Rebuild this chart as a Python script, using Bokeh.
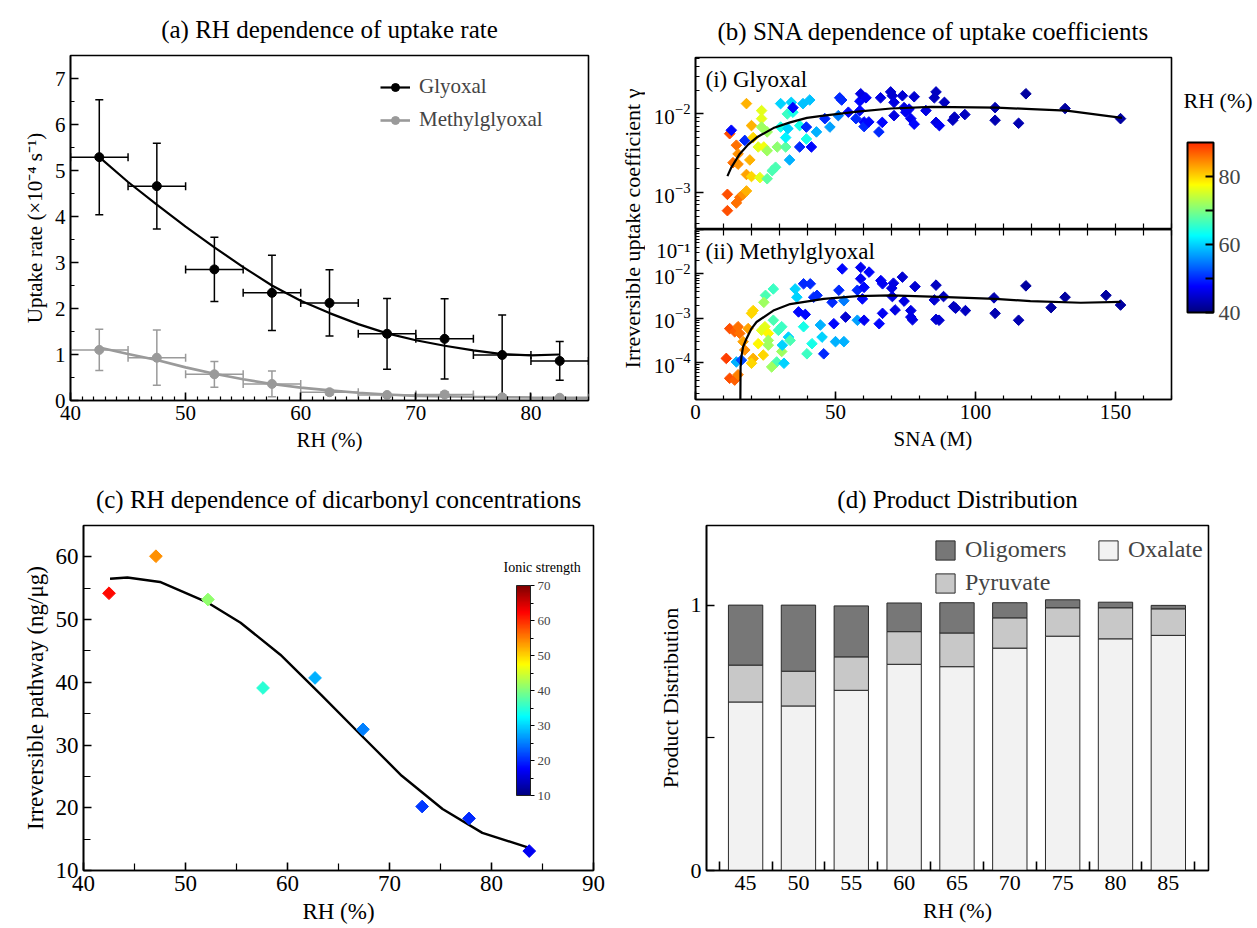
import numpy as np
from bokeh.plotting import figure
from bokeh.models import (ColumnDataSource, Whisker, TeeHead, Legend, LegendItem, ColorBar,
                          LinearColorMapper, FixedTicker, LinearAxis, Label)
from bokeh.layouts import row, column
from bokeh.embed import file_html
from bokeh.resources import INLINE

SERIF = "Liberation Serif"

# ---------------- (a) uptake rate ----------------
rh_bins = [42.5, 47.5, 52.5, 57.5, 62.5, 67.5, 72.5, 77.5, 82.5]
rh_bin_err = [2.5, 2.5, 2.5, 2.5, 2.5, 2.5, 2.5, 2.5, 2.5]
gly_rate = [5.29, 4.66, 2.85, 2.34, 2.12, 1.45, 1.34, 0.99, 0.86]
gly_err = [1.25, 0.93, 0.70, 0.82, 0.72, 0.77, 0.87, 0.87, 0.42]
mgly_rate = [1.10, 0.93, 0.57, 0.36, 0.18, 0.12, 0.13, 0.07, 0.06]
mgly_err = [0.45, 0.60, 0.28, 0.28, 0.06, 0.05, 0.06, 0.03, 0.02]
gly_fit_rh = [42.5, 45, 47.5, 50, 52.5, 55, 57.5, 60, 62.5, 65, 67.5, 70, 72.5, 75, 77.5, 80, 82.5]
gly_fit_rate = [5.29, 4.75, 4.26, 3.78, 3.33, 2.90, 2.50, 2.17, 1.90, 1.66, 1.46, 1.31, 1.19, 1.09, 1.01, 0.98, 1.00]
mgly_fit_rh = [42.5, 45, 47.5, 50, 52.5, 55, 57.5, 60, 62.5, 65, 67.5, 70, 75, 80, 85]
mgly_fit_rate = [1.15, 1.01, 0.88, 0.72, 0.58, 0.46, 0.36, 0.28, 0.22, 0.17, 0.13, 0.10, 0.08, 0.065, 0.06]

# ---------------- (b) uptake coefficients vs SNA ----------------
sna_gly = [11.4, 11.4, 14.6, 15.8, 17.0, 18.2, 12.2, 12.8, 17.6, 14.6, 15.2, 13.4, 15.2, 18.2, 20.0,
           20.6, 19.4, 18.2, 20.0, 23.6, 23.6, 23.6, 22.4, 24.4, 25.6, 25.6, 23.0, 25.6, 27.4, 28.6,
           29.2, 32.2, 30.4, 32.2, 32.8, 30.4, 34.2, 34.8, 33.0, 33.6, 34.8, 37.2, 38.4, 39.6, 39.6,
           40.8, 37.2, 41.4, 43.2, 46.2, 48.0, 51.0, 54.6, 51.5, 52.2, 57.3, 58.7, 58.7, 59.0, 60.9,
           60.2, 60.2, 61.9, 66.1, 69.7, 70.3, 70.9, 73.9, 78.1, 85.9, 85.3, 88.9, 74.5, 76.3, 82.3,
           75.1, 70.9, 76.9, 78.1, 66.7, 65.5, 85.9, 87.1, 92.5, 91.9, 96.2, 107.0, 107.0, 115.4,
           118.0, 132.0, 151.8]
gamma_gly = [5.9e-4, 9.5e-4, 7.4e-4, 8.7e-4, 9.5e-4, 1.05e-3, 5.6e-3, 6.2e-3, 4.6e-3, 4.0e-3, 3.1e-3,
             2.4e-3, 2.3e-3, 1.35e-2, 7.1e-3, 5.0e-3, 2.6e-3, 1.7e-3, 1.6e-3, 1.1e-2, 8.7e-3, 6.8e-3,
             3.8e-3, 3.8e-3, 5.9e-3, 3.4e-3, 1.55e-3, 1.5e-3, 1.9e-3, 2.1e-3, 3.8e-3, 3.8e-3, 6.8e-3,
             5.0e-3, 1.0e-2, 1.35e-2, 1.4e-2, 1.05e-2, 6.5e-3, 2.6e-3, 1.2e-2, 7.1e-3, 1.35e-2, 6.8e-3,
             4.8e-3, 1.5e-2, 3.8e-3, 3.8e-3, 5.9e-3, 8.7e-3, 6.8e-3, 9.5e-3, 1.05e-2, 1.6e-2, 1.5e-2,
             8.7e-3, 1.45e-2, 1.1e-2, 1.8e-2, 1.6e-2, 7.9e-3, 6.9e-3, 7.9e-3, 1.6e-2, 1.9e-2, 1.7e-2,
             1.4e-2, 1.7e-2, 1.65e-2, 1.9e-2, 1.6e-2, 1.4e-2, 1.2e-2, 1.15e-2, 1.1e-2, 1.05e-2, 9.5e-3,
             8.7e-3, 7.4e-3, 7.8e-3, 5.9e-3, 7.8e-3, 7.1e-3, 9.1e-3, 8.3e-3, 9.8e-3, 1.2e-2, 8.3e-3,
             7.6e-3, 1.8e-2, 1.17e-2, 8.7e-3]
rh_gly = [88, 88, 86, 86, 84, 82, 88, 48, 50, 86, 84, 86, 84, 82, 82, 80, 82, 83, 80, 76, 76, 72, 76,
          77, 72, 72, 76, 68, 67, 67, 71, 68, 64, 62, 66, 60, 60, 64, 60, 58, 48, 64, 59, 50, 64, 59,
          50, 48, 58, 50, 57, 55, 48, 50, 50, 50, 48, 48, 46, 47, 48, 50, 48, 46, 45, 45, 46, 45, 45,
          44, 44, 44, 46, 47, 46, 47, 46, 47, 48, 48, 50, 46, 47, 44, 44, 44, 43, 43, 43, 42, 42, 42]
gly_fit_sna = [11.4, 12.8, 15.8, 18.8, 21.8, 27.8, 33.8, 39.8, 45.8, 57.8, 69.8, 84.2, 107.5, 120.0, 132.5, 152.3]
gly_fit_gamma = [1.62e-3, 2.09e-3, 3.1e-3, 4.07e-3, 5.0e-3, 6.6e-3, 7.8e-3, 8.9e-3, 9.5e-3, 1.07e-2,
                 1.17e-2, 1.23e-2, 1.2e-2, 1.15e-2, 1.1e-2, 8.9e-3]

sna_mgly = [12.2, 14.0, 15.2, 11.0, 14.6, 16.4, 12.2, 14.0, 15.2, 15.8, 18.8, 17.0, 17.6, 20.6, 20.0,
            20.0, 20.6, 22.4, 24.2, 24.8, 23.6, 26.0, 25.0, 24.4, 27.8, 26.0, 26.0, 27.8, 29.6, 30.8,
            30.8, 29.0, 27.2, 31.6, 31.0, 33.2, 33.8, 35.6, 36.2, 36.8, 38.6, 41.0, 39.2, 38.6, 41.6,
            39.8, 42.2, 43.4, 44.6, 45.2, 45.8, 48.8, 49.4, 50.0, 51.2, 53.0, 52.4, 53.0, 53.6, 57.8,
            57.8, 59.0, 59.0, 60.2, 59.6, 60.2, 62.0, 66.2, 66.8, 65.6, 66.8, 70.7, 70.1, 73.9, 78.4,
            85.9, 70.3, 74.5, 85.3, 88.6, 71.3, 76.9, 77.5, 76.9, 85.9, 87.0, 92.2, 92.9, 96.4, 106.6,
            107.0, 115.4, 118.0, 127.0, 132.0, 146.6, 151.8]
gamma_mgly = [4.5e-5, 4.1e-5, 5.4e-5, 1.26e-4, 1.05e-4, 1.15e-4, 5.9e-4, 5.0e-4, 6.5e-4, 4.6e-4, 5.9e-4,
              3.0e-4, 1.95e-4, 1.26e-4, 9.8e-5, 1.3e-3, 1.5e-3, 2.7e-4, 1.5e-4, 6.5e-4, 5.4e-4, 4.6e-4,
              3.3e-3, 2.3e-3, 4.6e-3, 3.2e-4, 2.5e-4, 9.1e-4, 5.4e-4, 6.5e-4, 1.8e-4, 1.05e-4, 8.1e-5,
              9.8e-5, 2.5e-4, 3.8e-4, 3.2e-4, 4.6e-3, 3.0e-3, 1.4e-3, 6.0e-3, 6.0e-3, 1.23e-3, 6.5e-4,
              2.7e-4, 1.6e-4, 3.0e-3, 3.3e-3, 7.1e-4, 3.8e-4, 1.6e-4, 2.3e-3, 7.6e-4, 3.0e-4, 4.3e-3,
              3.0e-4, 1.3e-2, 2.5e-3, 1.07e-3, 4.3e-3, 9.1e-4, 1.4e-2, 7.8e-3, 5.0e-3, 2.75e-3, 9.1e-4,
              1.1e-2, 7.1e-3, 6.0e-3, 7.6e-4, 1.3e-3, 6.2e-3, 4.8e-3, 8.5e-3, 5.2e-3, 5.6e-3, 3.1e-3,
              2.45e-3, 2.6e-3, 3.1e-3, 1.55e-3, 1.5e-3, 9.3e-4, 1.07e-3, 9.5e-4, 9.1e-4, 1.85e-3, 1.7e-3,
              1.5e-3, 2.9e-3, 1.3e-3, 9.1e-4, 5.4e-3, 1.75e-3, 3.0e-3, 3.3e-3, 2.0e-3]
rh_mgly = [88, 87, 85, 89, 58, 52, 88, 87, 86, 86, 83, 83, 84, 82, 80, 80, 80, 78, 80, 76, 76, 78, 67,
           72, 66, 72, 72, 67, 66, 66, 72, 67, 72, 60, 60, 60, 67, 60, 60, 48, 50, 50, 48, 64, 64, 66,
           50, 50, 58, 60, 50, 50, 48, 58, 50, 58, 48, 55, 45, 50, 57, 47, 47, 48, 48, 47, 48, 47, 47,
           48, 47, 46, 46, 45, 45, 44, 46, 46, 45, 44, 46, 46, 46, 46, 45, 45, 44, 44, 44, 43, 43, 43,
           42, 42, 42, 42, 42]
mgly_fit_sna = [16.0, 16.1, 16.4, 17.0, 18.2, 20.0, 21.8, 27.8, 33.8, 45.8, 57.8, 69.8, 89.7, 107.0, 119.6, 137.6, 151.8]
mgly_fit_gamma = [1.0e-5, 8.1e-5, 1.38e-4, 2.3e-4, 3.5e-4, 5.9e-4, 8.3e-4, 1.5e-3, 2.1e-3, 2.75e-3,
                  3.16e-3, 3.3e-3, 3.0e-3, 2.75e-3, 2.45e-3, 2.25e-3, 2.35e-3]

# ---------------- (c) irreversible pathway ----------------
rh_c = [42.5, 47.1, 52.2, 57.6, 62.7, 67.4, 73.2, 77.8, 83.7]
irrev = [54.2, 60.1, 53.2, 39.1, 40.7, 32.5, 20.2, 18.3, 13.1]
ionic = [62, 54, 41, 35, 28, 25, 21, 20, 17]
fit_c_rh = [42.6, 44.3, 47.5, 52.2, 55.4, 59.3, 63.3, 67.2, 71.2, 75.2, 79.1, 83.7]
fit_c_val = [56.5, 56.7, 56.0, 52.7, 49.5, 44.4, 38.0, 31.6, 25.1, 19.8, 16.0, 13.6]

# ---------------- (d) product distribution ----------------
rh_d = [45, 50, 55, 60, 65, 70, 75, 80, 85]
rh_d_labels = ["45", "50", "55", "60", "65", "70", "75", "80", "85"]
oxalate = [0.635, 0.620, 0.679, 0.777, 0.768, 0.838, 0.883, 0.873, 0.886]
pyruvate = [0.139, 0.131, 0.126, 0.123, 0.127, 0.114, 0.107, 0.117, 0.100]
oligomers = [0.226, 0.249, 0.192, 0.108, 0.114, 0.057, 0.030, 0.021, 0.013]


def jet(t):
    r = min(max(1.5 - abs(4 * t - 3), 0), 1)
    g = min(max(1.5 - abs(4 * t - 2), 0), 1)
    b = min(max(1.5 - abs(4 * t - 1), 0), 1)
    return "#%02x%02x%02x" % (int(r * 255), int(g * 255), int(b * 255))


jet_full = [jet(i / 255) for i in range(256)]
jet_rh = [jet(0.83 * i / 255) for i in range(256)]


def base_fig(**kw):
    p = figure(output_backend="svg", toolbar_location=None, **kw)
    p.grid.visible = False
    p.outline_line_color = "black"
    p.outline_line_width = 1.6
    p.outline_line_alpha = 1.0
    p.title.text_font = SERIF
    p.title.text_font_size = "25px"
    p.title.text_font_style = "normal"
    p.title.align = "center"
    p.title.text_color = "black"
    p.title.standoff = 25
    return p


def style_axis(ax, size="21px", label_size="21px"):
    ax.axis_line_color = "black"
    ax.axis_line_width = 1.6
    ax.major_tick_line_color = "black"
    ax.major_tick_line_width = 1.6
    ax.minor_tick_line_color = "black"
    ax.minor_tick_line_width = 1.2
    ax.major_tick_in = 8
    ax.major_tick_out = 0
    ax.minor_tick_in = 4
    ax.minor_tick_out = 0
    ax.major_label_text_font = SERIF
    ax.major_label_text_font_size = size
    ax.major_label_text_color = "black"
    ax.axis_label_text_font = SERIF
    ax.axis_label_text_font_size = label_size
    ax.axis_label_text_font_style = "normal"
    ax.axis_label_text_color = "black"


def blank_label(**kw):
    return Label(x_units="screen", y_units="screen", text_font=SERIF, text_color="black", **kw)


# ======== panel (a) ========
pa = base_fig(title="(a) RH dependence of uptake rate", frame_width=518, frame_height=345,
              min_border_left=70, min_border_right=27, min_border_top=55, min_border_bottom=70,
              x_range=(40, 85), y_range=(0, 7.5),
              x_axis_label="RH (%)", y_axis_label="Uptake rate (×10⁻⁴ s⁻¹)")
pa.xaxis.ticker = FixedTicker(ticks=[40, 50, 60, 70, 80], minor_ticks=list(range(40, 86)))
pa.yaxis.ticker = FixedTicker(ticks=list(range(0, 8)), minor_ticks=[i * 0.5 for i in range(16)])
for ax in pa.axis:
    style_axis(ax)


def err_source(x, y, yerr, xerr):
    return ColumnDataSource(dict(
        x=x, y=y,
        ylo=[a - b for a, b in zip(y, yerr)], yhi=[a + b for a, b in zip(y, yerr)],
        xlo=[a - b for a, b in zip(x, xerr)], xhi=[a + b for a, b in zip(x, xerr)]))


def add_errors(p, src, color):
    for dim, base, lo, hi in (("height", "x", "ylo", "yhi"), ("width", "y", "xlo", "xhi")):
        p.add_layout(Whisker(source=src, base=base, lower=lo, upper=hi, dimension=dim,
                             line_color=color, line_width=1.5,
                             upper_head=TeeHead(size=8, line_color=color, line_width=1.5),
                             lower_head=TeeHead(size=8, line_color=color, line_width=1.5)))


src_g = err_source(rh_bins, gly_rate, gly_err, rh_bin_err)
src_m = err_source(rh_bins, mgly_rate, mgly_err, rh_bin_err)
GRAY = "#9a9a9a"
add_errors(pa, src_m, GRAY)
add_errors(pa, src_g, "black")
lm = pa.line(mgly_fit_rh, mgly_fit_rate, line_color=GRAY, line_width=2.6)
lg = pa.line(gly_fit_rh, gly_fit_rate, line_color="black", line_width=2.2)
sm = pa.scatter("x", "y", source=src_m, size=9, fill_color=GRAY, line_color=GRAY)
sg = pa.scatter("x", "y", source=src_g, size=9, fill_color="black", line_color="black")
leg_a = Legend(items=[LegendItem(label="Glyoxal", renderers=[lg, sg]),
                      LegendItem(label="Methylglyoxal", renderers=[lm, sm])],
               location=(310, 268), border_line_color=None, background_fill_alpha=0,
               label_text_font=SERIF, label_text_font_size="21px", glyph_width=30, glyph_height=20,
               spacing=8, padding=6, label_standoff=9)
pa.add_layout(leg_a)

# ======== panel (b) ========
b_xticker = FixedTicker(ticks=[0, 50, 100, 150], minor_ticks=list(range(0, 171, 10)))
b_inner_ticker = FixedTicker(ticks=[], minor_ticks=list(range(0, 171, 10)))
rh_mapper = LinearColorMapper(palette=jet_rh, low=40, high=90)

bt = base_fig(title="(b) SNA dependence of uptake coefficients", frame_width=476, frame_height=172,
              min_border_left=50, min_border_right=2, min_border_top=57, min_border_bottom=0,
              x_range=(0, 170), y_range=(3.4e-4, 0.052), y_axis_type="log")
bt.xaxis.ticker = b_inner_ticker
bt.yaxis.ticker = FixedTicker(ticks=[1e-3, 1e-2],
                              minor_ticks=[m * 10.0 ** e for e in (-4, -3, -2) for m in range(2, 10)])
for ax in bt.axis:
    style_axis(ax)
bt.xaxis.minor_tick_in = 6
bt.xaxis.major_label_standoff = 0
src_bg = ColumnDataSource(dict(x=sna_gly, y=gamma_gly, rh=rh_gly))
bt.scatter("x", "y", source=src_bg, marker="square", angle=np.pi / 4, size=7.5,
           fill_color={"field": "rh", "transform": rh_mapper},
           line_color={"field": "rh", "transform": rh_mapper})
bt.line(gly_fit_sna, gly_fit_gamma, line_color="black", line_width=2.2)
bt.add_layout(blank_label(x=10, y=163, text="(i) Glyoxal", text_font_size="23px", text_baseline="top"))

bb = base_fig(frame_width=476, frame_height=170,
              min_border_left=50, min_border_right=2, min_border_top=0, min_border_bottom=70,
              x_range=bt.x_range, y_range=(1.5e-5, 0.1), y_axis_type="log", x_axis_label="SNA (M)")
bb.xaxis.ticker = b_xticker
bb.add_layout(LinearAxis(ticker=b_inner_ticker, major_label_standoff=0), "above")
bb.yaxis.ticker = FixedTicker(ticks=[1e-4, 1e-3, 1e-2, 1e-1],
                              minor_ticks=[m * 10.0 ** e for e in (-5, -4, -3, -2) for m in range(2, 10)])
# the top-edge label is pushed just below the edge (as in the original) with a short leading blank line
bb.yaxis.major_label_overrides = {1e-1: "\n10⁻¹"}
for ax in bb.axis:
    style_axis(ax)
bb.yaxis.major_label_text_line_height = 0.4
for ax in bb.above:
    ax.minor_tick_in = 6
src_bm = ColumnDataSource(dict(x=sna_mgly, y=gamma_mgly, rh=rh_mgly))
bb.scatter("x", "y", source=src_bm, marker="square", angle=np.pi / 4, size=7.5,
           fill_color={"field": "rh", "transform": rh_mapper},
           line_color={"field": "rh", "transform": rh_mapper})
bb.line(mgly_fit_sna, mgly_fit_gamma, line_color="black", line_width=2.2)
bb.add_layout(blank_label(x=10, y=161, text="(ii) Methylglyoxal", text_font_size="23px", text_baseline="top"))

# y label for panel (b) (its frame lines up with panel (a)'s frame: y 55..400)
ly = figure(width=30, height=470, min_border=0, x_axis_location=None, y_axis_location=None,
            toolbar_location=None, output_backend="svg", x_range=(0, 1), y_range=(0, 1))
ly.grid.visible = False
ly.outline_line_color = None
ly.add_layout(blank_label(x=17, y=172, text="Irreversible uptake coefficient γ", angle=90,
                          angle_units="deg", text_align="center", text_baseline="middle",
                          text_font_size="22px"))

# colour bar for panel (b)
cf = figure(width=82, height=470, min_border=0, x_axis_location=None, y_axis_location=None,
            toolbar_location=None, output_backend="svg", x_range=(0, 1), y_range=(0, 1))
cf.grid.visible = False
cf.outline_line_color = None
cb = ColorBar(color_mapper=rh_mapper, location=(14, 88), width=26, height=170, padding=0,
              ticker=FixedTicker(ticks=[40, 60, 80], minor_ticks=[50, 70]),
              major_label_text_font=SERIF, major_label_text_font_size="22px",
              bar_line_color="black", bar_line_width=2,
              major_tick_line_color="black", major_tick_line_width=2, major_tick_in=8, major_tick_out=0,
              minor_tick_line_color="black", minor_tick_line_width=2, minor_tick_in=8, minor_tick_out=0,
              label_standoff=5, background_fill_alpha=0, border_line_color=None)
cf.add_layout(cb, "center")
cf.add_layout(blank_label(x=10, y=300, text="RH (%)", text_font_size="22px", text_baseline="middle"))

# ======== panel (c) ========
pc = base_fig(title="(c) RH dependence of dicarbonyl concentrations", frame_width=510, frame_height=345,
              min_border_left=83, min_border_right=47, min_border_top=55, min_border_bottom=50,
              x_range=(40, 90), y_range=(10, 65),
              x_axis_label="RH (%)", y_axis_label="Irreversible pathway (ng/μg)")
pc.xaxis.ticker = FixedTicker(ticks=[40, 50, 60, 70, 80, 90], minor_ticks=[45, 55, 65, 75, 85])
pc.yaxis.ticker = FixedTicker(ticks=[10, 20, 30, 40, 50, 60], minor_ticks=[15, 25, 35, 45, 55, 65])
for ax in pc.axis:
    style_axis(ax, size="23px", label_size="23px")
    ax.minor_tick_in = 7
ion_mapper = LinearColorMapper(palette=jet_full, low=10, high=70)
pc.line(fit_c_rh, fit_c_val, line_color="black", line_width=2.4)
src_c = ColumnDataSource(dict(x=rh_c, y=irrev, ion=ionic))
pc.scatter("x", "y", source=src_c, marker="square", angle=np.pi / 4, size=9,
           fill_color={"field": "ion", "transform": ion_mapper},
           line_color={"field": "ion", "transform": ion_mapper})
cbc = ColorBar(color_mapper=ion_mapper, location=(433, 75), width=14, height=210, padding=0,
               ticker=FixedTicker(ticks=[10, 20, 30, 40, 50, 60, 70], minor_ticks=[15, 25, 35, 45, 55, 65]),
               major_label_text_font=SERIF, major_label_text_font_size="13px",
               bar_line_color="#222222", bar_line_width=1,
               major_tick_line_color="black", major_tick_in=0, major_tick_out=4,
               minor_tick_line_color="black", minor_tick_in=0, minor_tick_out=3,
               label_standoff=3, background_fill_alpha=0, border_line_color=None)
pc.add_layout(cbc, "center")
pc.add_layout(blank_label(x=420, y=303, text="Ionic strength", text_font_size="14px", text_baseline="middle"))

# ======== panel (d) ========
pd_ = base_fig(title="(d) Product Distribution", frame_width=502, frame_height=345,
               min_border_left=66, min_border_right=41, min_border_top=55, min_border_bottom=50,
               x_range=(41.3, 88.8), y_range=(0, 1.3),
               x_axis_label="RH (%)", y_axis_label="Product Distribution")
pd_.xaxis.ticker = FixedTicker(ticks=rh_d, minor_ticks=[42.5, 47.5, 52.5, 57.5, 62.5, 67.5, 72.5, 77.5, 82.5, 87.5])
pd_.xaxis.major_label_overrides = {v: s for v, s in zip(rh_d, rh_d_labels)}
pd_.yaxis.ticker = FixedTicker(ticks=[0, 1], minor_ticks=[0.5])
for ax in pd_.axis:
    style_axis(ax, size="22px", label_size="22px")
pd_.xaxis.major_tick_in = 0
pd_.xaxis.minor_tick_in = 9
pd_.xaxis.minor_tick_line_width = 1.6
pd_.yaxis.minor_tick_in = 8
src_d = ColumnDataSource(dict(rh=rh_d, oxalate=oxalate, pyruvate=pyruvate, oligomers=oligomers))
rs = pd_.vbar_stack(["oxalate", "pyruvate", "oligomers"], x="rh", width=3.25, source=src_d,
                    fill_color=["#f2f2f2", "#c8c8c8", "#777777"], line_color="#2a2a2a", line_width=1)
leg_d = Legend(items=[LegendItem(label="Oligomers", renderers=[rs[2]]),
                      LegendItem(label="Pyruvate", renderers=[rs[1]]),
                      LegendItem(label="Oxalate", renderers=[rs[0]])],
               location=(227, 274), ncols=2, border_line_color=None, background_fill_alpha=0,
               label_text_font=SERIF, label_text_font_size="24px", glyph_width=24, glyph_height=24,
               spacing=6, padding=4, label_standoff=8, label_width=125)
pd_.add_layout(leg_d)

layout = column(row(pa, ly, column(bt, bb), cf), row(pc, pd_))

open("out.html", "w").write(file_html(layout, INLINE))
